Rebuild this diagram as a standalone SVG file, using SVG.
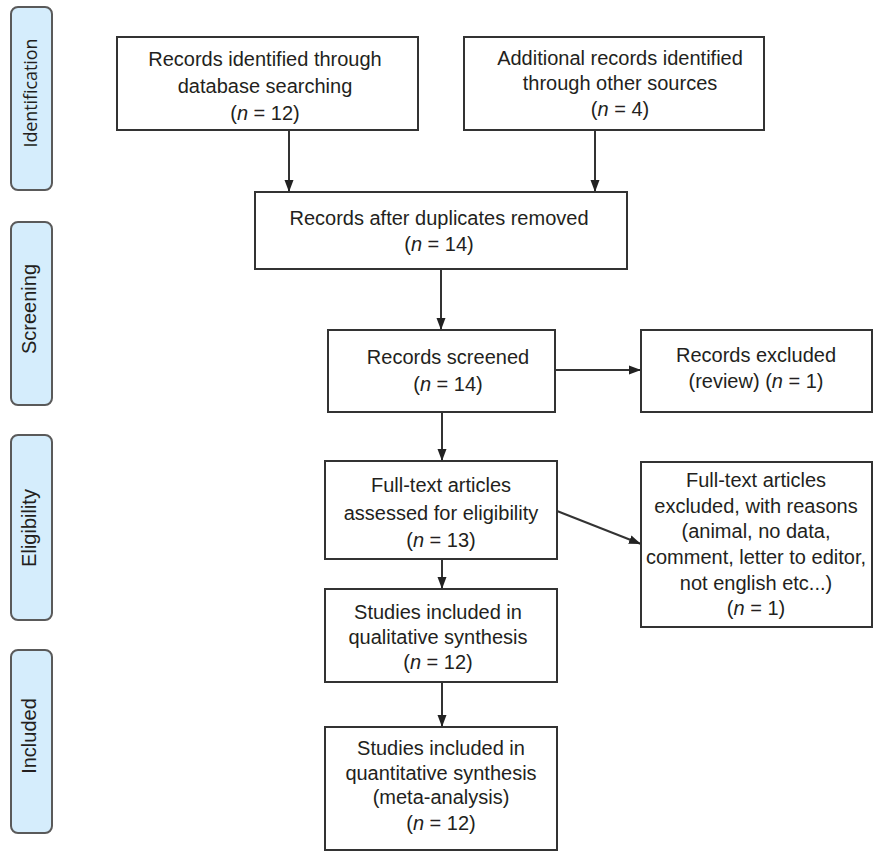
<svg xmlns="http://www.w3.org/2000/svg" width="881" height="858" viewBox="0 0 881 858">
<defs>
<style>
.box{fill:#fff;stroke:#333;stroke-width:2}
.side{fill:#d5edfc;stroke:#5a5a5a;stroke-width:2}
.t{font-family:"Liberation Sans",Arial,sans-serif;font-size:20px;fill:#231f20;text-anchor:middle}
.st{font-family:"Liberation Sans",Arial,sans-serif;font-size:20px;fill:#231f20;text-anchor:middle}
.st2{font-family:"Open Sans","Liberation Sans",sans-serif;font-size:18px;fill:#231f20;text-anchor:middle}
.c{stroke:#333;stroke-width:2;fill:none}
.i{font-style:italic}
</style>
<marker id="ah" markerUnits="userSpaceOnUse" markerWidth="12" markerHeight="12" viewBox="0 0 12 12" refX="12" refY="6" orient="auto">
<path d="M0,1.5 L12,6 L0,10.5 Z" fill="#222"/>
</marker>
</defs>
<rect width="881" height="858" fill="#fff"/>

<g id="phase-identification"><rect class="side" x="11" y="7" width="41" height="183" rx="7"/><text class="st2" transform="translate(37,93) rotate(-90)" textLength="109">Identification</text></g>
<g id="phase-screening"><rect class="side" x="11" y="222" width="41" height="183" rx="7"/><text class="st" transform="translate(36,309) rotate(-90)">Screening</text></g>
<g id="phase-eligibility"><rect class="side" x="11" y="435" width="41" height="185" rx="7"/><text class="st" transform="translate(36,528) rotate(-90)">Eligibility</text></g>
<g id="phase-included"><rect class="side" x="11" y="650" width="41" height="183" rx="7"/><text class="st" transform="translate(36,736) rotate(-90)">Included</text></g>

<g id="connectors">
<line class="c" x1="289" y1="130" x2="289" y2="192" marker-end="url(#ah)"/>
<line class="c" x1="595" y1="130" x2="595" y2="192" marker-end="url(#ah)"/>
<line class="c" x1="441" y1="269" x2="441" y2="330" marker-end="url(#ah)"/>
<line class="c" x1="555" y1="370" x2="641" y2="370" marker-end="url(#ah)"/>
<line class="c" x1="442" y1="412" x2="442" y2="461" marker-end="url(#ah)"/>
<line class="c" x1="557" y1="511" x2="641" y2="544" marker-end="url(#ah)"/>
<line class="c" x1="442" y1="559" x2="442" y2="589" marker-end="url(#ah)"/>
<line class="c" x1="442" y1="682" x2="442" y2="727" marker-end="url(#ah)"/>
</g>

<g id="n1"><rect class="box" x="117" y="37" width="301" height="93"/>
<text class="t" x="265" y="66">Records identified through</text>
<text class="t" x="265" y="93">database searching</text>
<text class="t" x="265" y="120">(<tspan class="i">n</tspan> = 12)</text></g>

<g id="n2"><rect class="box" x="464" y="37" width="300" height="93"/>
<text class="t" x="620" y="65">Additional records identified</text>
<text class="t" x="620" y="90">through other sources</text>
<text class="t" x="620" y="116">(<tspan class="i">n</tspan> = 4)</text></g>

<g id="n3"><rect class="box" x="255" y="192" width="372" height="77"/>
<text class="t" x="439" y="225">Records after duplicates removed</text>
<text class="t" x="439" y="251">(<tspan class="i">n</tspan> = 14)</text></g>

<g id="n4"><rect class="box" x="328" y="330" width="227" height="82"/>
<text class="t" x="448" y="364">Records screened</text>
<text class="t" x="448" y="391">(<tspan class="i">n</tspan> = 14)</text></g>

<g id="n5"><rect class="box" x="641" y="330" width="231" height="82"/>
<text class="t" x="756" y="362">Records excluded</text>
<text class="t" x="756" y="388">(review) (<tspan class="i">n</tspan> = 1)</text></g>

<g id="n6"><rect class="box" x="325" y="461" width="232" height="98"/>
<text class="t" x="441" y="492">Full-text articles</text>
<text class="t" x="441" y="520">assessed for eligibility</text>
<text class="t" x="441" y="547">(<tspan class="i">n</tspan> = 13)</text></g>

<g id="n7"><rect class="box" x="641" y="462" width="231" height="165"/>
<text class="t" x="756" y="487">Full-text articles</text>
<text class="t" x="756" y="513">excluded, with reasons</text>
<text class="t" x="756" y="538">(animal, no data,</text>
<text class="t" x="756" y="564">comment, letter to editor,</text>
<text class="t" x="756" y="590">not english etc...)</text>
<text class="t" x="756" y="615">(<tspan class="i">n</tspan> = 1)</text></g>

<g id="n8"><rect class="box" x="325" y="589" width="232" height="93"/>
<text class="t" x="438" y="619">Studies included in</text>
<text class="t" x="438" y="644">qualitative synthesis</text>
<text class="t" x="438" y="669">(<tspan class="i">n</tspan> = 12)</text></g>

<g id="n9"><rect class="box" x="325" y="727" width="232" height="123"/>
<text class="t" x="441" y="755">Studies included in</text>
<text class="t" x="441" y="780">quantitative synthesis</text>
<text class="t" x="441" y="804">(meta-analysis)</text>
<text class="t" x="441" y="830">(<tspan class="i">n</tspan> = 12)</text></g>
</svg>
